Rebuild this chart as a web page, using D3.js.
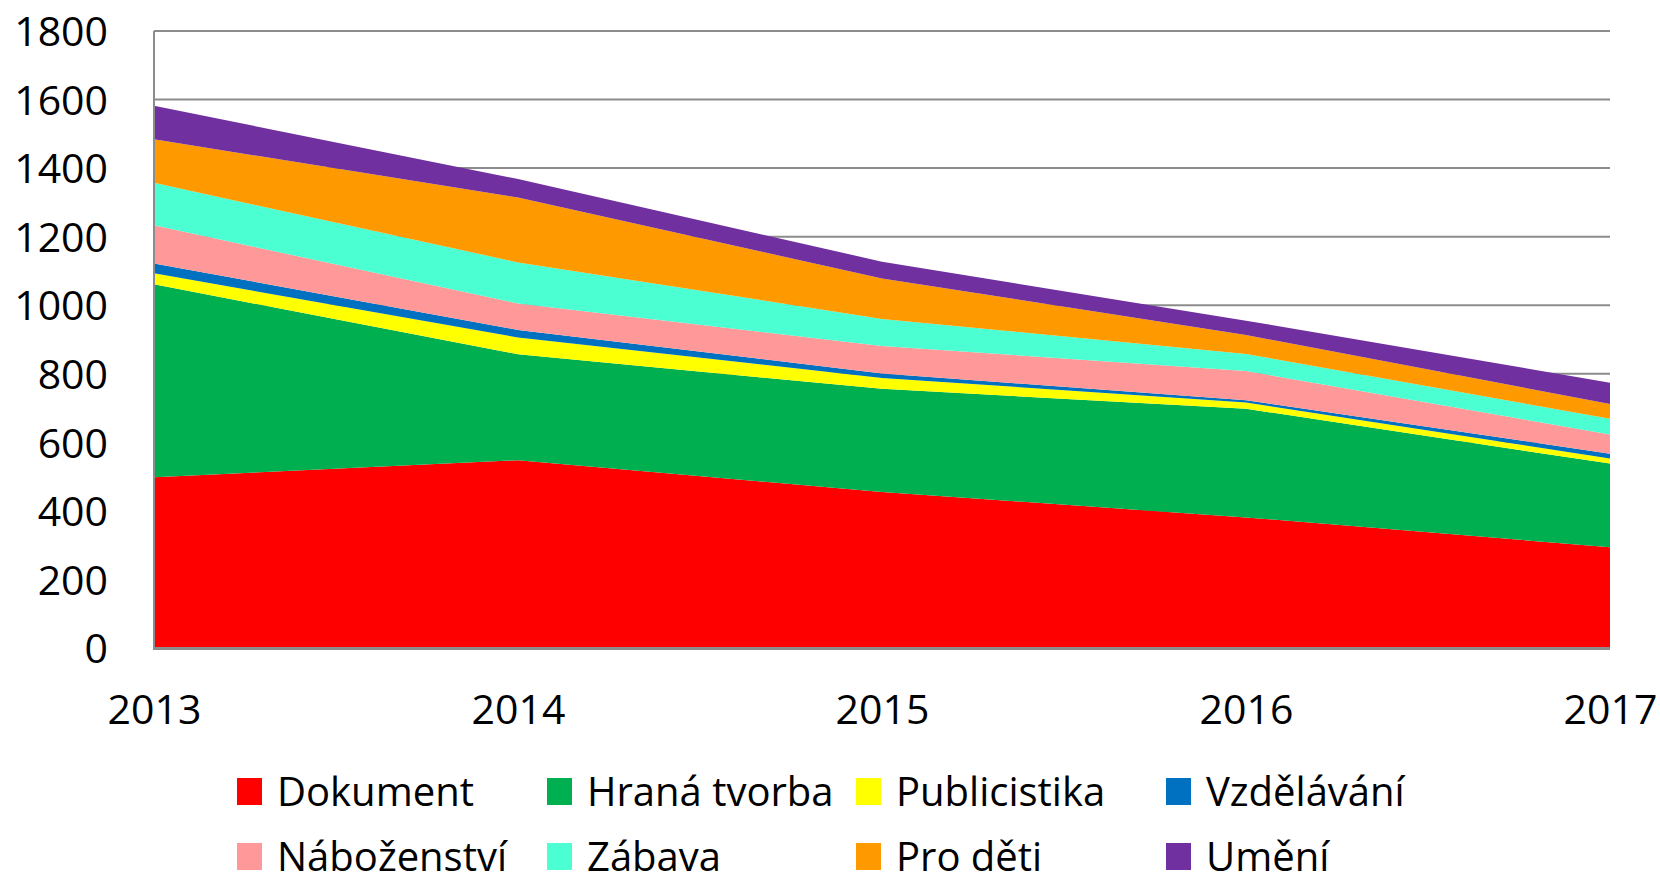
<!DOCTYPE html>
<html>
<head>
<meta charset="utf-8">
<script src="https://cdn.jsdelivr.net/npm/d3@7"></script>
<style>
  body { margin: 0; background: #fff; }
  svg { display: block; font-family: 'Open Sans', sans-serif; }
</style>
</head>
<body>
<div id="chart"></div>
<script>
const years = [2013, 2014, 2015, 2016, 2017];
const yTicks = [0, 200, 400, 600, 800, 1000, 1200, 1400, 1600, 1800];

const seriesNames = ['Dokument', 'Hraná tvorba', 'Publicistika', 'Vzdělávání',
  'Náboženství', 'Zábava', 'Pro děti', 'Umění'];
const seriesColors = ['#ff0000', '#00b050', '#ffff00', '#0070c0',
  '#ff9999', '#4bffd2', '#ff9900', '#7030a0'];

const dokument = [498, 548, 455, 381, 294];
const hranaTvorba = [563, 309, 301, 317, 244];
const publicistika = [32, 49, 32, 18, 15];
const vzdelavani = [29, 22, 13, 7, 14];
const nabozenstvi = [111, 77, 80, 85, 56];
const zabava = [124, 120, 79, 50, 46];
const proDeti = [127, 189, 118, 55, 43];
const umeni = [98, 54, 49, 42, 62];

const seriesValues = [dokument, hranaTvorba, publicistika, vzdelavani,
  nabozenstvi, zabava, proDeti, umeni];

// rows for d3.stack
const rows = years.map((yr, i) => {
  const r = { year: yr };
  seriesNames.forEach((n, k) => { r[n] = seriesValues[k][i]; });
  return r;
});

const W = 1660, H = 884;
const margin = { top: 31, right: 50, bottom: 236, left: 154 };
const width = W - margin.left - margin.right;
const height = H - margin.top - margin.bottom;

const svg = d3.select('#chart').append('svg')
  .attr('width', W)
  .attr('height', H);

const x = d3.scaleLinear().domain([2013, 2017]).range([margin.left, margin.left + width]);
const y = d3.scaleLinear().domain([0, 1800]).range([margin.top + height, margin.top]);

// gridlines
svg.append('g')
  .selectAll('line')
  .data(yTicks.filter(t => t > 0))
  .enter().append('line')
  .attr('x1', margin.left)
  .attr('x2', margin.left + width)
  .attr('y1', d => y(d))
  .attr('y2', d => y(d))
  .attr('stroke', '#8c8c8c')
  .attr('stroke-width', 2);

// stacked areas
const stack = d3.stack().keys(seriesNames);
const layers = stack(rows);

const area = d3.area()
  .x(d => x(d.data.year))
  .y0(d => y(d[0]))
  .y1(d => y(d[1]));

svg.append('g')
  .selectAll('path')
  .data(layers)
  .enter().append('path')
  .attr('d', area)
  .attr('fill', (d, i) => seriesColors[i]);

// axis lines
svg.append('line')
  .attr('x1', margin.left).attr('x2', margin.left)
  .attr('y1', y(1800)).attr('y2', y(0))
  .attr('stroke', '#8c8c8c').attr('stroke-width', 2);

svg.append('line')
  .attr('x1', margin.left - 1).attr('x2', margin.left + width)
  .attr('y1', y(0) + 0.5).attr('y2', y(0) + 0.5)
  .attr('stroke', '#8c8c8c').attr('stroke-width', 3);

// y axis labels
const yAxis = d3.axisLeft(y).tickValues(yTicks).tickFormat(d3.format('d')).tickSize(0).tickPadding(46);
svg.append('g')
  .attr('transform', `translate(${margin.left},0)`)
  .call(yAxis)
  .call(g => g.select('.domain').remove())
  .selectAll('text')
  .attr('font-size', 41)
  .attr('font-family', "'Open Sans', sans-serif")
  .attr('fill', '#000')
  .attr('dy', '0.36em');

// x axis labels
const xAxis = d3.axisBottom(x).tickValues(years).tickFormat(d3.format('d')).tickSize(0).tickPadding(47);
svg.append('g')
  .attr('transform', `translate(0,${y(0)})`)
  .call(xAxis)
  .call(g => g.select('.domain').remove())
  .selectAll('text')
  .attr('font-size', 41)
  .attr('font-family', "'Open Sans', sans-serif")
  .attr('fill', '#000');

// legend
const legendX = [237, 547, 856, 1166];
const legendY = [778, 843];
const legend = svg.append('g')
  .selectAll('g')
  .data(seriesNames)
  .enter().append('g')
  .attr('transform', (d, i) => `translate(${legendX[i % 4]},${legendY[Math.floor(i / 4)]})`);

legend.append('rect')
  .attr('width', 25)
  .attr('height', 27)
  .attr('fill', (d, i) => seriesColors[i]);

legend.append('text')
  .attr('x', 40)
  .attr('y', 13.5)
  .attr('dy', '0.36em')
  .attr('font-size', 40)
  .attr('fill', '#000')
  .text(d => d);
</script>
</body>
</html>
